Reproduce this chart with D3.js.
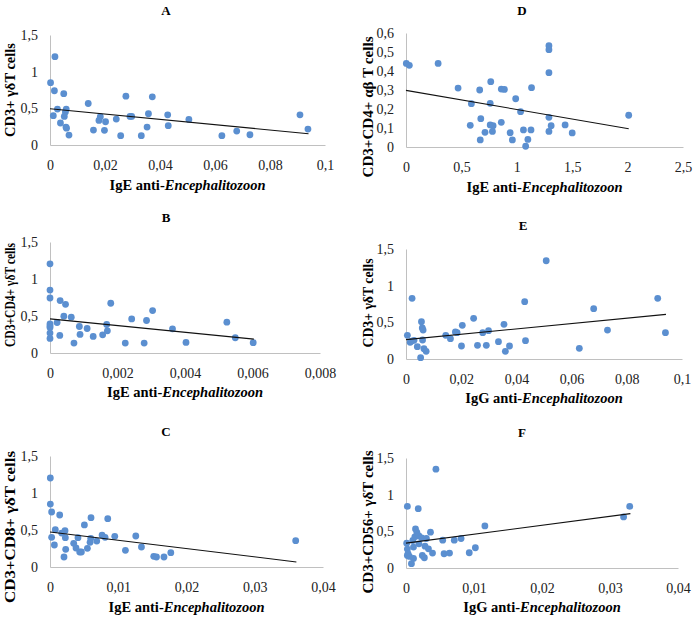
<!DOCTYPE html>
<meta charset="utf-8">
<script src="https://d3js.org/d3.v7.min.js"></script>
<style>
  body { margin: 0; background: #fff; }
  text { font-family: "Liberation Serif", "Times New Roman", serif; }
</style>
<div id="chart"></div>
<script>

// ---- data: [x, y] per subject ----
var pointsA = [[0.0002,0.85],[0.0018,1.205],[0.0016,0.74],[0.0012,0.40],[0.0027,0.49],[0.0038,0.30],
  [0.005,0.70],[0.0052,0.39],[0.0056,0.45],[0.0059,0.49],[0.0058,0.245],[0.006,0.23],[0.0069,0.136],
  [0.0139,0.566],[0.0158,0.204],[0.0178,0.335],[0.0183,0.385],[0.0198,0.20],[0.0202,0.317],[0.0241,0.353],
  [0.0257,0.127],[0.0276,0.666],[0.0291,0.39],[0.0297,0.39],[0.0332,0.127],[0.0353,0.245],[0.0358,0.426],
  [0.0372,0.657],[0.0428,0.412],[0.043,0.263],[0.0505,0.349],[0.0625,0.127],[0.0679,0.19],[0.0727,0.14],
  [0.0909,0.412],[0.0938,0.217]];

var pointsB = [[0,1.205],[0,0.85],[0,0.743],[0,0.394],[0,0.367],[0,0.345],[0,0.269],[0,0.197],
  [0.00021,0.412],[0.0003,0.708],[0.00029,0.237],[0.00041,0.497],[0.00046,0.658],[0.00063,0.484],
  [0.00071,0.134],[0.00087,0.358],[0.00089,0.251],[0.0011,0.331],[0.00128,0.224],[0.00156,0.246],
  [0.00168,0.385],[0.0017,0.30],[0.0018,0.672],[0.00223,0.134],[0.00242,0.461],[0.00279,0.134],
  [0.00286,0.439],[0.00304,0.573],[0.00363,0.327],[0.00403,0.143],[0.00524,0.416],[0.00549,0.206],
  [0.00602,0.139]];

var pointsC = [[0.00005,1.203],[0.00005,0.851],[0.00024,0.743],[0.00024,0.401],[0.00078,0.505],
  [0.00064,0.297],[0.00142,0.703],[0.00171,0.459],[0.0022,0.491],[0.00225,0.396],[0.0023,0.239],
  [0.00205,0.135],[0.0041,0.396],[0.00347,0.32],[0.00381,0.257],[0.00435,0.203],[0.0046,0.203],
  [0.00504,0.568],[0.00548,0.252],[0.00587,0.333],[0.00597,0.387],[0.00601,0.667],[0.00685,0.351],
  [0.00763,0.432],[0.00807,0.401],[0.00846,0.653],[0.00949,0.414],[0.01105,0.225],[0.01257,0.419],
  [0.0134,0.27],[0.0152,0.144],[0.0156,0.135],[0.0167,0.135],[0.0177,0.194],[0.036,0.356]];

var pointsD = [[0.003,0.44],[0.03,0.43],[0.29,0.44],[0.47,0.31],[0.58,0.114],[0.59,0.228],[0.665,0.30],
  [0.675,0.149],[0.67,0.037],[0.713,0.077],[0.76,0.23],[0.765,0.344],[0.76,0.116],[0.786,0.112],
  [0.78,0.082],[0.86,0.13],[0.86,0.305],[0.888,0.303],[0.94,0.075],[0.96,0.037],[0.99,0.254],
  [1.034,0.186],[1.06,0.09],[1.08,0.004],[1.1,0.04],[1.128,0.09],[1.133,0.312],[1.29,0.533],
  [1.29,0.512],[1.29,0.391],[1.29,0.156],[1.29,0.082],[1.31,0.112],[1.436,0.116],[1.5,0.074],
  [2.01,0.167]];

var pointsE = [[0.0005,0.323],[0.0015,0.227],[0.002,0.245],[0.0022,0.827],[0.0029,0.255],[0.0041,0.168],
  [0.0053,0.018],[0.0056,0.509],[0.0059,0.423],[0.0062,0.395],[0.006,0.259],[0.0065,0.141],[0.0073,0.105],
  [0.0144,0.323],[0.0161,0.277],[0.0179,0.368],[0.0185,0.359],[0.0201,0.177],[0.0204,0.459],[0.0245,0.555],
  [0.0259,0.186],[0.0278,0.359],[0.0291,0.186],[0.0299,0.386],[0.0335,0.236],[0.0355,0.473],[0.036,0.105],
  [0.0375,0.177],[0.043,0.782],[0.0433,0.25],[0.0508,1.34],[0.0628,0.145],[0.068,0.686],[0.073,0.395],
  [0.0912,0.827],[0.094,0.359]];

var pointsF = [[0.0001,0.339],[0.0002,0.258],[0.0002,0.172],[0.0003,0.194],[0.0002,0.84],[0.0005,0.158],
  [0.0008,0.059],[0.001,0.375],[0.0011,0.285],[0.0011,0.131],[0.0013,0.425],[0.0014,0.533],[0.0016,0.484],
  [0.0018,0.809],[0.0019,0.438],[0.0019,0.33],[0.0023,0.411],[0.0024,0.172],[0.0027,0.14],[0.0028,0.298],
  [0.003,0.402],[0.0033,0.262],[0.0036,0.488],[0.0039,0.203],[0.0044,1.347],[0.0054,0.38],[0.0056,0.194],
  [0.0064,0.203],[0.0071,0.38],[0.0081,0.402],[0.0093,0.208],[0.0102,0.276],[0.0116,0.574],[0.032,0.696],
  [0.0329,0.84]];

// linear trend lines (start and end point as drawn)
var trendA = [[0,0.494],[0.094,0.154]];
var trendB = [[0,0.461],[0.00604,0.188]];
var trendC = [[0,0.473],[0.0361,0.068]];
var trendD = [[0,0.298],[2.01,0.096]];
var trendE = [[0,0.264],[0.0942,0.609]];
var trendF = [[0,0.339],[0.033,0.741]];

// tick values
var ticksX1 = [0,0.02,0.04,0.06,0.08,0.1];
var ticksX2 = [0,0.002,0.004,0.006,0.008];
var ticksX3 = [0,0.01,0.02,0.03,0.04];
var ticksX4 = [0,0.5,1,1.5,2,2.5];
var ticksY1 = [0,0.5,1,1.5];
var ticksY2 = [0,0.1,0.2,0.3,0.4,0.5,0.6];

var fmt = d3.formatLocale({decimal: ",", thousands: ".", grouping: [3], currency: ["", ""]}).format("~g");

// layout per panel (each panel was a separate Excel chart, so label lengths vary)
var panels = [
  {id:"A", pts:pointsA, trend:trendA, xd:[0,0.1],   xt:ticksX1, yd:[0,1.5], yt:ticksY1,
   xr:[50,325],  yr:[145,35],  ab:"IgE", yl:"CD3+ γδT cells",      ylx:10,  yly:90,  yll:94,  tx:166, ty:10,  xly:185},
  {id:"B", pts:pointsB, trend:trendB, xd:[0,0.008], xt:ticksX2, yd:[0,1.5], yt:ticksY1,
   xr:[50,320],  yr:[353,242], ab:"IgE", yl:"CD3+CD4+ γδT cells",  ylx:10,  yly:295, yll:104, tx:166, ty:217, xly:392},
  {id:"C", pts:pointsC, trend:trendC, xd:[0,0.04],  xt:ticksX3, yd:[0,1.5], yt:ticksY1,
   xr:[50,323],  yr:[567,456], ab:"IgE", yl:"CD3+CD8+ γδT cells",  ylx:10,  yly:527, yll:152, tx:166, ty:431, xly:607},
  {id:"D", pts:pointsD, trend:trendD, xd:[0,2.5],   xt:ticksX4, yd:[0,0.6], yt:ticksY2,
   xr:[406,683], yr:[147,33],  ab:"IgE", yl:"CD3+CD4+ αβ T cells", ylx:368, yly:107, yll:141, tx:522, ty:10,  xly:187},
  {id:"E", pts:pointsE, trend:trendE, xd:[0,0.1],   xt:ticksX1, yd:[0,1.5], yt:ticksY1,
   xr:[406,682], yr:[359,249], ab:"IgG", yl:"CD3+ γδT cells",      ylx:368, yly:303, yll:89,  tx:523, ty:225, xly:398},
  {id:"F", pts:pointsF, trend:trendF, xd:[0,0.04],  xt:ticksX3, yd:[0,1.5], yt:ticksY1,
   xr:[406,678], yr:[568,458], ab:"IgG", yl:"CD3+CD56+ γδT cells", ylx:368, yly:522, yll:143, tx:522, ty:432, xly:607}
];

var svg = d3.select("#chart").append("svg")
  .attr("width", 695)
  .attr("height", 617);

panels.forEach(function(p) {
  var x = d3.scaleLinear().domain(p.xd).range(p.xr);
  var y = d3.scaleLinear().domain(p.yd).range(p.yr);
  var g = svg.append("g");

  // axes: Excel style, grey line and no tick marks
  var xa = g.append("g")
    .attr("transform", "translate(0," + p.yr[0] + ")")
    .call(d3.axisBottom(x).tickValues(p.xt).tickFormat(fmt).tickSize(0).tickPadding(15));
  var ya = g.append("g")
    .attr("transform", "translate(" + p.xr[0] + ",0)")
    .call(d3.axisLeft(y).tickValues(p.yt).tickFormat(fmt).tickSize(0).tickPadding(12));
  [xa, ya].forEach(function(a) {
    a.select(".domain").attr("stroke", "#c0c0c0").attr("stroke-width", 1);
    a.selectAll("text").attr("font-size", 14).attr("fill", "#222")
      .style("font-family", "'Liberation Serif', 'Times New Roman', serif");
  });

  // points
  g.selectAll("circle")
    .data(p.pts)
    .enter()
    .append("circle")
    .attr("cx", function(d) { return x(d[0]); })
    .attr("cy", function(d) { return y(d[1]); })
    .attr("r", 3.4)
    .attr("fill", "#5b8fd0");

  // trend line
  g.append("line")
    .attr("x1", x(p.trend[0][0])).attr("y1", y(p.trend[0][1]))
    .attr("x2", x(p.trend[1][0])).attr("y2", y(p.trend[1][1]))
    .attr("stroke", "#111")
    .attr("stroke-width", 1.1);

  // panel letter
  g.append("text")
    .attr("x", p.tx).attr("y", p.ty)
    .attr("dy", "0.35em")
    .attr("text-anchor", "middle")
    .attr("font-size", 13)
    .attr("font-weight", "bold")
    .text(p.id);

  // y title
  g.append("text")
    .attr("transform", "translate(" + p.ylx + "," + p.yly + ") rotate(-90)")
    .attr("dy", "0.35em")
    .attr("text-anchor", "middle")
    .attr("font-size", 14.5)
    .attr("font-weight", "bold")
    .attr("textLength", p.yll)
    .attr("lengthAdjust", "spacingAndGlyphs")
    .text(p.yl);

  // x title with italic genus
  var xt = g.append("text")
    .attr("x", (p.xr[0] + p.xr[1]) / 2).attr("y", p.xly)
    .attr("dy", "0.35em")
    .attr("text-anchor", "middle")
    .attr("font-size", 14.5)
    .attr("font-weight", "bold");
  xt.append("tspan").text(p.ab + " anti-");
  xt.append("tspan").attr("font-style", "italic").text("Encephalitozoon");
});

</script>
